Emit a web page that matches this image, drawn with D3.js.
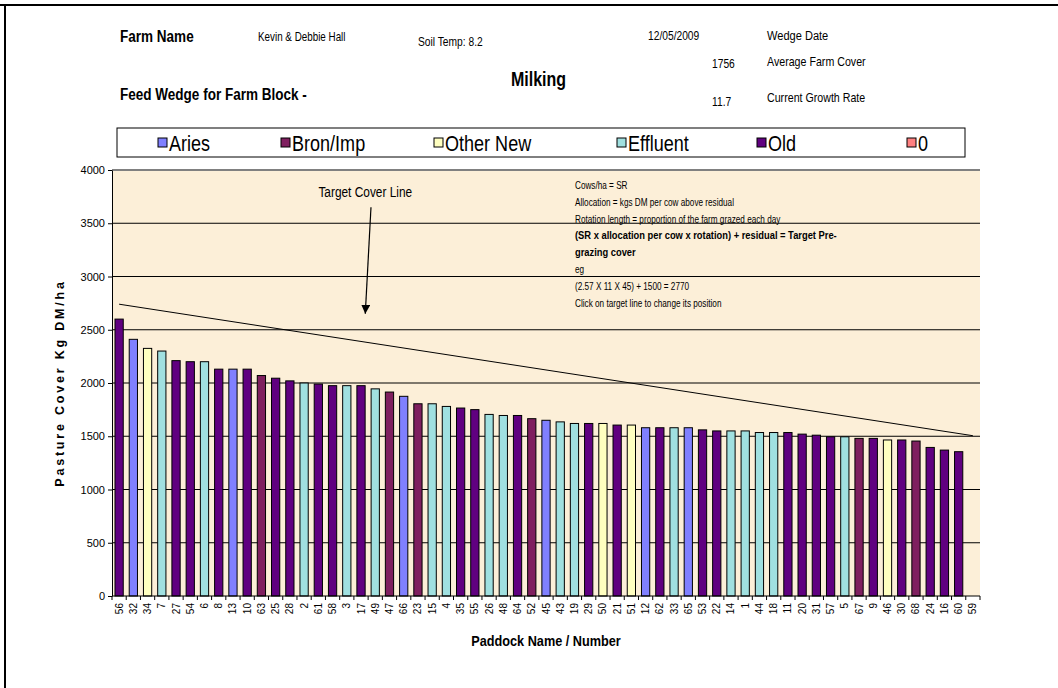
<!DOCTYPE html>
<html>
<head>
<meta charset="utf-8">
<script src="https://cdn.jsdelivr.net/npm/d3@7"></script>
<style>
  body { margin: 0; background: #fff; }
  text { font-family: "Liberation Sans", Arial, sans-serif; fill: #000; }
</style>
</head>
<body>
<svg id="chart" width="1058" height="688"></svg>
<script>
// paddocks, sorted by cover (as in the wedge)
var paddocks = ["56","32","34","7","27","54","6","8","13","10",
	"63","25","28","2","61","58","3","17","49","47",
	"66","23","15","4","35","55","26","48","64","52",
	"45","43","19","29","50","21","51","12","62","33",
	"65","53","22","14","1","44","18","11","20","31",
	"57","5","67","9","46","30","68","24","16","60","59"];

var cover = [2600,2410,2325,2300,2210,2200,2200,2130,2130,2130,
	2070,2045,2020,2000,1990,1975,1975,1975,1945,1915,
	1875,1805,1805,1780,1765,1750,1705,1695,1695,1665,
	1650,1635,1620,1620,1620,1605,1605,1580,1580,1580,
	1580,1560,1550,1550,1550,1535,1535,1535,1520,1510,
	1495,1495,1480,1480,1465,1465,1455,1395,1370,1355,null];

var block = ["Old","Aries","Other New","Effluent","Old","Old","Effluent","Old","Aries","Old",
	"Bron/Imp","Old","Old","Effluent","Old","Old","Effluent","Old","Effluent","Bron/Imp",
	"Aries","Bron/Imp","Effluent","Effluent","Old","Old","Effluent","Effluent","Old","Bron/Imp",
	"Aries","Effluent","Effluent","Old","Other New","Old","Other New","Aries","Old","Effluent",
	"Aries","Old","Old","Effluent","Effluent","Effluent","Effluent","Old","Old","Old",
	"Old","Effluent","Bron/Imp","Old","Other New","Old","Bron/Imp","Old","Old","Old",null];

var blockNames = ["Aries","Bron/Imp","Other New","Effluent","Old","0"];
var blockColors = ["#8080ff","#7f1f5f","#ffffc0","#a0e0e0","#600080","#ff8080"];

var yTicks = [0,500,1000,1500,2000,2500,3000,3500,4000];

// target cover line: first and last paddock
var target = [{paddock: "56", value: 2740}, {paddock: "59", value: 1505}];

var notes = [
	{t: "Cows/ha = SR", b: false},
	{t: "Allocation = kgs DM per cow above residual", b: false},
	{t: "Rotation length = proportion of the farm grazed each day", b: false},
	{t: "(SR x allocation per cow x rotation) + residual = Target Pre-", b: true},
	{t: "grazing cover", b: true},
	{t: "eg", b: false},
	{t: "(2.57 X 11 X 45) + 1500 = 2770", b: false},
	{t: "Click on target line to change its position", b: false}
];

var svg = d3.select("#chart");
var pLeft = 112, pRight = 980, pTop = 170, pBottom = 596;
var NARROW = 0.82; // no Arial Narrow here, squeeze Liberation Sans instead

function narrow(px, py) {
	return "translate(" + px + "," + py + ") scale(" + NARROW + ",1)";
}

var color = d3.scaleOrdinal().domain(blockNames).range(blockColors);

var x = d3.scaleBand().domain(paddocks).range([pLeft, pRight])
	.paddingInner(0.42).paddingOuter(0.21);
var y = d3.scaleLinear().domain([0, 4000]).range([pBottom, pTop]);
var xc = function (p) { return x(p) + x.bandwidth() / 2; };

// page frame
svg.append("line").attr("x1", 0).attr("x2", 1058).attr("y1", 5).attr("y2", 5)
	.attr("stroke", "#000").attr("stroke-width", 2);
svg.append("line").attr("x1", 5).attr("x2", 5).attr("y1", 5).attr("y2", 688)
	.attr("stroke", "#000").attr("stroke-width", 2);

// header texts
var head = svg.append("g");
function htext(tx, px, py, size, bold) {
	head.append("text").attr("transform", narrow(px, py)).text(tx)
		.style("font-size", size + "px").style("font-weight", bold ? "bold" : "normal");
}
htext("Farm Name", 120, 42, 16.5, true);
htext("Kevin & Debbie Hall", 258, 41, 12, false);
htext("Soil Temp:  8.2", 418, 46, 12.5, false);
htext("12/05/2009", 648, 40, 12.5, false);
htext("Wedge Date", 767, 40, 13.5, false);
htext("1756", 712, 68, 12.5, false);
htext("Average Farm Cover", 767, 66, 13, false);
htext("Feed Wedge for Farm Block -", 120, 100, 16.5, true);
htext("Milking", 511, 86, 19.5, true);
htext("11.7", 712, 106, 12.5, false);
htext("Current Growth Rate", 767, 102, 13, false);

// legend
var legendX = [158, 281, 434, 617, 757, 907];
svg.append("rect").attr("x", 117).attr("y", 128).attr("width", 848).attr("height", 29)
	.attr("fill", "#fff").attr("stroke", "#000");
var lg = svg.append("g").selectAll("g").data(blockNames).enter().append("g")
	.attr("transform", function (d, i) { return "translate(" + legendX[i] + ",0)"; });
lg.append("rect").attr("x", 0).attr("y", 138).attr("width", 9).attr("height", 9)
	.attr("fill", function (d) { return color(d); }).attr("stroke", "#000");
lg.append("text").attr("transform", narrow(11, 151)).text(function (d) { return d; })
	.style("font-size", "22px");

// plot area
svg.append("rect").attr("x", pLeft).attr("y", pTop).attr("width", pRight - pLeft).attr("height", pBottom - pTop)
	.attr("fill", "#fcefd8");

svg.append("g").selectAll("line").data(yTicks.filter(function (d) { return d > 0 && d < 4000; }))
	.enter().append("line")
	.attr("x1", pLeft).attr("x2", pRight)
	.attr("y1", function (d) { return y(d); }).attr("y2", function (d) { return y(d); })
	.attr("stroke", "#000").attr("stroke-width", 1);
svg.append("line").attr("x1", pLeft).attr("x2", pRight).attr("y1", pTop).attr("y2", pTop)
	.attr("stroke", "#808080").attr("stroke-width", 2);

// bars
var data = paddocks.map(function (p, i) { return {p: p, v: cover[i], b: block[i]}; })
	.filter(function (d) { return d.v != null; });
svg.append("g").selectAll("rect").data(data).enter().append("rect")
	.attr("x", function (d) { return x(d.p); })
	.attr("width", x.bandwidth())
	.attr("y", function (d) { return y(d.v); })
	.attr("height", function (d) { return y(0) - y(d.v); })
	.attr("fill", function (d) { return color(d.b); })
	.attr("stroke", "#000").attr("stroke-width", 1);

// target line
svg.append("line")
	.attr("x1", xc(target[0].paddock)).attr("y1", y(target[0].value))
	.attr("x2", xc(target[1].paddock)).attr("y2", y(target[1].value))
	.attr("stroke", "#000").attr("stroke-width", 1);

// axes
var yAxis = svg.append("g").attr("transform", "translate(" + pLeft + ",0)")
	.call(d3.axisLeft(y).tickValues(yTicks).tickFormat(d3.format("d"))
		.tickSize(4).tickSizeOuter(0).tickPadding(3));
yAxis.selectAll("text").style("font-size", "11px").style("font-family", "'Liberation Sans', Arial, sans-serif");
yAxis.selectAll("line").attr("stroke", "#000");
yAxis.select(".domain").attr("stroke", "#000");

svg.append("line").attr("x1", pLeft).attr("x2", pRight).attr("y1", pBottom).attr("y2", pBottom)
	.attr("stroke", "#000");
var step = x.step();
svg.append("g").selectAll("line").data(d3.range(paddocks.length + 1)).enter().append("line")
	.attr("x1", function (i) { return pLeft + i * step; })
	.attr("x2", function (i) { return pLeft + i * step; })
	.attr("y1", pBottom).attr("y2", pBottom + 4).attr("stroke", "#000");
svg.append("g").selectAll("text").data(paddocks).enter().append("text")
	.attr("transform", function (d) { return "translate(" + (xc(d) + 3.5) + "," + (pBottom + 7) + ") rotate(-90)"; })
	.attr("text-anchor", "end")
	.style("font-size", "10px")
	.text(function (d) { return d; });

svg.append("text").attr("transform", narrow(546, 646)).attr("text-anchor", "middle")
	.style("font-size", "15.5px").style("font-weight", "bold").text("Paddock Name / Number");
svg.append("text")
	.attr("transform", "translate(64," + ((pTop + pBottom) / 2) + ") rotate(-90)")
	.attr("text-anchor", "middle")
	.style("font-size", "12.5px").style("font-weight", "bold").style("letter-spacing", "2.8px")
	.text("Pasture Cover Kg DM/ha");

// notes
svg.append("g").selectAll("text").data(notes).enter().append("text")
	.attr("transform", function (d, i) { return narrow(575, 189 + i * 16.8); })
	.style("font-size", function (d) { return d.b ? "11.4px" : "10px"; })
	.style("font-weight", function (d) { return d.b ? "bold" : "normal"; })
	.text(function (d) { return d.t; });

// target cover line arrow
var ax = d3.scaleLinear().domain([0, paddocks.length]).range([pLeft, pRight]);
svg.append("defs").append("marker").attr("id", "head")
	.attr("viewBox", "0 0 10 10").attr("refX", 10).attr("refY", 5)
	.attr("markerWidth", 9).attr("markerHeight", 9).attr("markerUnits", "userSpaceOnUse")
	.attr("orient", "auto")
	.append("path").attr("d", "M0,0L10,5L0,10z").attr("fill", "#000");
svg.append("text").attr("transform", narrow(ax(17.8), y(3745))).attr("text-anchor", "middle")
	.style("font-size", "14.5px").text("Target Cover Line");
svg.append("line")
	.attr("x1", ax(18.2)).attr("y1", y(3650))
	.attr("x2", ax(17.8)).attr("y2", y(2650))
	.attr("stroke", "#000").attr("stroke-width", 1.2).attr("marker-end", "url(#head)");
</script>
</body>
</html>
